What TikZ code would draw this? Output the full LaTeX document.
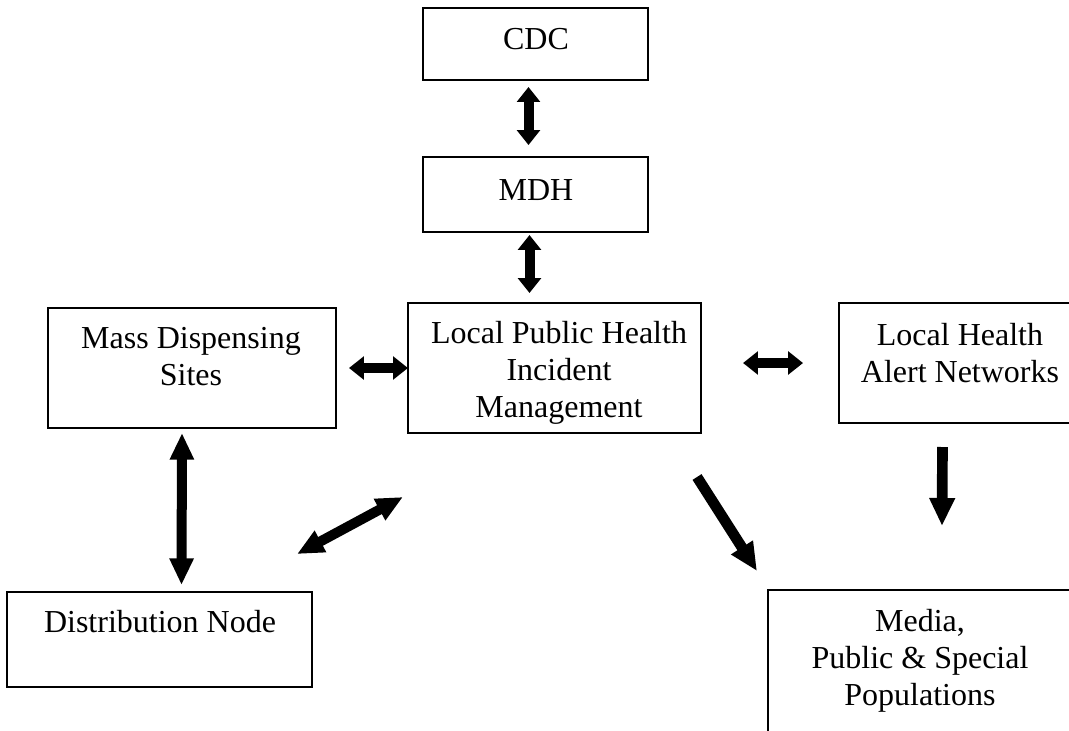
\documentclass[tikz,border=0pt]{standalone}
\usepackage{fontspec}
\setmainfont{Liberation Serif}
\usetikzlibrary{arrows.meta, calc}

\begin{document}
\begin{tikzpicture}[x=0.375pt, y=-0.375pt, font=\fontsize{12}{13.8}\selectfont,
  every node/.style={outer sep=0pt},
  box/.style={draw, line width=0.7pt, inner sep=0pt},
  txt/.style={align=center, inner sep=0pt, anchor=base},
  dbl/.style={line width=3.75pt, {Triangle[length=5.6pt,width=8.5pt]}-{Triangle[length=5.6pt,width=8.5pt]}},
  dbllong/.style={line width=3.75pt, {Triangle[length=10pt,width=8.5pt]}-{Triangle[length=10pt,width=8.5pt]}},
  onelong/.style={line width=4pt, -{Triangle[length=10.5pt,width=9pt]}}]

\clip (0,0) rectangle (1069,730);

% boxes
\node (cdc)   [box, minimum width=84.4pt,  minimum height=27pt]    at (535.5,44)  {};
\node (mdh)   [box, minimum width=84.4pt,  minimum height=28.1pt]  at (535.5,194.5) {};
\node (mass)  [box, minimum width=108pt,   minimum height=45pt]    at (192,368)   {};
\node (lph)   [box, minimum width=109.9pt, minimum height=48.75pt] at (554.5,368) {};
\node (lhan)  [box, minimum width=91.1pt,  minimum height=45pt]    at (960.5,363) {};
\node (dist)  [box, minimum width=114.4pt, minimum height=35.6pt]  at (159.5,639.5) {};
\node (media) [box, minimum width=114pt,   minimum height=71.25pt] at (920,685)   {};

% texts (base = last line)
\node (cdctxt)   [txt] at (536,49)  {CDC};
\node (mdhtxt)   [txt] at (536,200) {MDH};
\node (masstxt)  [txt] at (191,385) {Mass Dispensing\\Sites};
\node (lphtxt)   [txt] at (559,417) {Local Public Health\\Incident\\Management};
\node (lhantxt)  [txt] at (960,382) {Local Health\\Alert Networks};
\node (disttxt)  [txt] at (160,632) {Distribution Node};
\node (mediatxt) [txt] at (920,705) {Media,\\Public \& Special\\Populations};

% arrows
\draw [dbl] ($(cdc.south)+(-7,7)$) -- ($(mdh.north)+(-7,-12)$);
\draw [dbl] ($(mdh.south)+(-6,3)$) -- ($(lph.north)+(-25,-10)$);
\draw [dbl] ($(mass.east)+(13,0)$) -- (lph.west);
\draw [dbl] ($(lph.east)+(42,-5)$) -- ($(lhan.west)+(-36,0)$);
\draw [onelong] ($(lhan.south)+(-18,24)$) -- ($(media.north)+(22,-64)$);
\draw [onelong] ($(lph.south east)+(-4,44)$) -- ($(media.north west)+(-11,-19)$);
\draw [dbllong] ($(dist.north east)+(-15,-38)$) -- ($(lph.south west)+(-5,64)$);
\draw [dbllong] ($(mass.south)+(-10,5)$) -- ($(dist.north)+(22,-7)$);

\end{tikzpicture}
\end{document}
